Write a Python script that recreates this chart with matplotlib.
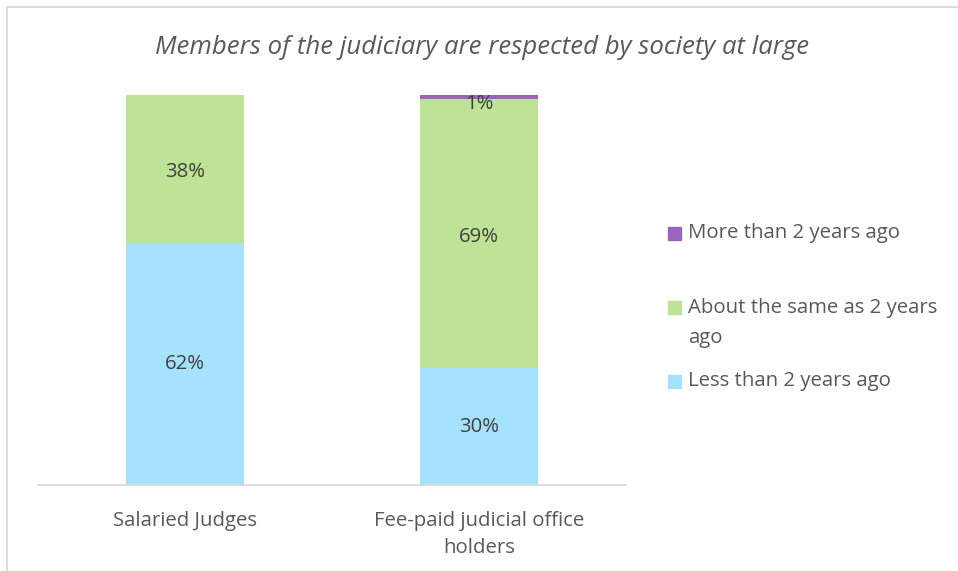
import matplotlib.pyplot as plt
from matplotlib.patches import Rectangle

plt.rcParams['font.family'] = ['Open Sans', 'DejaVu Sans']

# data
categories = ['Salaried Judges', 'Fee-paid judicial office\nholders']
less_2y = [62, 30]
same_2y = [38, 69]
more_2y = [0, 1]
series_names = ['Less than 2 years ago', 'About the same as 2 years\nago', 'More than 2 years ago']
colors = ['#A6E1FF', '#BEE396', '#9966BB']
title = 'Members of the judiciary are respected by society at large'

fig = plt.figure(figsize=(9.58, 5.71), dpi=100)
ax = fig.add_axes([38/958, 1-485/571, 588/958, 390/571])

x = [0, 1]
w = 0.40
ax.bar(x, less_2y, w, color=colors[0])
ax.bar(x, same_2y, w, bottom=less_2y, color=colors[1])
bottom3 = [a + b for a, b in zip(less_2y, same_2y)]
ax.bar(x, more_2y, w, bottom=bottom3, color=colors[2])

# data labels
txt = '#404040'
fs = 14.7
for i in x:
    ax.text(i, less_2y[i] / 2, f'{less_2y[i]}%', ha='center', va='center', fontsize=fs, color=txt)
    ax.text(i, less_2y[i] + same_2y[i] / 2 - 0.8, f'{same_2y[i]}%', ha='center', va='center', fontsize=fs, color=txt)
    if more_2y[i] > 0:
        ax.text(i, bottom3[i] + more_2y[i] / 2 - 1.8, f'{more_2y[i]}%', ha='center', va='center', fontsize=fs, color=txt)

ax.set_xlim(-0.5, 1.5)
ax.set_ylim(0, 100)
ax.set_yticks([])
ax.set_xticks(x)
ax.set_xticklabels(categories, fontsize=fs, color='#595959', linespacing=1.45)
ax.tick_params(axis='x', length=0, pad=19)
for s in ['top', 'right', 'left']:
    ax.spines[s].set_visible(False)
ax.spines['bottom'].set_color('#D9D9D9')
ax.spines['bottom'].set_linewidth(1.2)

# title
fig.text(482/958, 1-47/571, title, ha='center', va='center', fontsize=18.5,
         style='italic', color='#595959')

# legend drawn by hand to match spacing
leg = [(2, 233, 233, series_names[2]), (1, 307, 323, series_names[1]), (0, 381, 381, series_names[0])]
for ci, ybox, ytxt, name in leg:
    fig.patches.append(Rectangle((668/958, 1-(ybox+6.5)/571), 13/958, 13/571,
                                 transform=fig.transFigure, color=colors[ci]))
    fig.text(688/958, 1-ytxt/571, name, ha='left', va='center',
             fontsize=fs, color='#595959', linespacing=1.65)

# outer chart border
fig.add_artist(plt.Line2D([7/958, 7/958], [0, 1-7/571], color='#D9D9D9', lw=1.2))
fig.add_artist(plt.Line2D([7/958, 1], [1-7/571, 1-7/571], color='#D9D9D9', lw=1.2))

fig.savefig('out.png', dpi=100)
